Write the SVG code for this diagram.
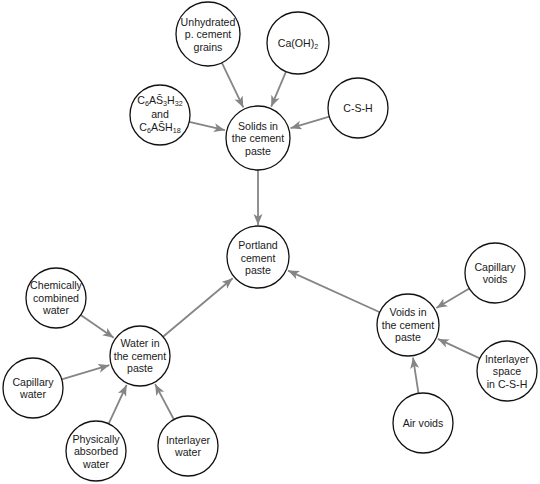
<svg xmlns="http://www.w3.org/2000/svg" width="540" height="484" viewBox="0 0 540 484">
<style>
.node circle{fill:#fff;stroke:#111;stroke-width:1.3}
text{font-family:"Liberation Sans",Arial,sans-serif;font-size:10.6px;fill:#1a1a1a;text-anchor:middle}
.sub{font-size:7.2px}
#connectors line{stroke:#858585;stroke-width:1.8;marker-end:url(#arr)}
</style>
<defs>
<marker id="arr" markerUnits="userSpaceOnUse" markerWidth="12" markerHeight="10" refX="11" refY="4.5" orient="auto">
<path d="M0,0 L11,4.5 L0,9 L2.8,4.5 z" fill="#858585"/>
</marker>
</defs>
<rect width="540" height="484" fill="#fff"/>
<g id="connectors">
<line x1="221.9" y1="62.8" x2="243.3" y2="107.4"/>
<line x1="286.0" y1="71.6" x2="271.2" y2="106.7"/>
<line x1="189.2" y1="121.9" x2="224.9" y2="130.2"/>
<line x1="329.3" y1="116.6" x2="290.6" y2="128.2"/>
<line x1="258" y1="170" x2="258" y2="225"/>
<line x1="163" y1="336.7" x2="232.7" y2="278.2"/>
<line x1="379.8" y1="312.2" x2="288.1" y2="270.6"/>
<line x1="80.7" y1="315.0" x2="113.7" y2="337.8"/>
<line x1="61.7" y1="379.4" x2="109.3" y2="365.2"/>
<line x1="108.6" y1="423.8" x2="126.6" y2="385"/>
<line x1="173.9" y1="419.5" x2="155.1" y2="384.2"/>
<line x1="469.3" y1="288.4" x2="436.3" y2="308.1"/>
<line x1="479.8" y1="358.4" x2="437.9" y2="338.9"/>
<line x1="418.5" y1="393.3" x2="413" y2="357.6"/>
</g>
<g id="unhydrated" class="node"><circle cx="208" cy="34" r="32"/>
<text x="208" y="25.6">Unhydrated</text><text x="208" y="38">p. cement</text><text x="208" y="50.5">grains</text></g>
<g id="caoh2" class="node"><circle cx="298" cy="43" r="31"/>
<text x="298" y="46.5">Ca(OH)<tspan class="sub" dy="2">2</tspan></text></g>
<g id="ettringite" class="node"><circle cx="160" cy="115" r="30"/>
<text x="160" y="103.5">C<tspan class="sub" dy="2">6</tspan><tspan dy="-2">AS&#x0304;</tspan><tspan class="sub" dy="2">3</tspan><tspan dy="-2">H</tspan><tspan class="sub" dy="2">32</tspan></text>
<text x="160" y="117.5">and</text>
<text x="160" y="131">C<tspan class="sub" dy="2">6</tspan><tspan dy="-2">AS&#x0304;H</tspan><tspan class="sub" dy="2">18</tspan></text></g>
<g id="csh" class="node"><circle cx="358" cy="108" r="30"/>
<text x="358" y="111.6">C-S-H</text></g>
<g id="solids" class="node"><circle cx="258" cy="138" r="32"/>
<text x="258" y="129.5">Solids in</text><text x="258" y="142">the cement</text><text x="258" y="154.5">paste</text></g>
<g id="portland" class="node"><circle cx="258" cy="257" r="31"/>
<text x="258" y="249">Portland</text><text x="258" y="261.5">cement</text><text x="258" y="274">paste</text></g>
<g id="water" class="node"><circle cx="140" cy="356" r="30"/>
<text x="140" y="347">Water in</text><text x="140" y="359.5">the cement</text><text x="140" y="372">paste</text></g>
<g id="chemically" class="node"><circle cx="56" cy="298" r="30"/>
<text x="56" y="289">Chemically</text><text x="56" y="301.5">combined</text><text x="56" y="314">water</text></g>
<g id="capwater" class="node"><circle cx="33" cy="388" r="30"/>
<text x="33" y="385.5">Capillary</text><text x="33" y="398">water</text></g>
<g id="physically" class="node"><circle cx="96" cy="451" r="30"/>
<text x="96" y="442.5">Physically</text><text x="96" y="455">absorbed</text><text x="96" y="467.5">water</text></g>
<g id="interwater" class="node"><circle cx="188" cy="446" r="30"/>
<text x="188" y="443.5">Interlayer</text><text x="188" y="456">water</text></g>
<g id="voids" class="node"><circle cx="408" cy="325" r="31"/>
<text x="408" y="316">Voids in</text><text x="408" y="328.5">the cement</text><text x="408" y="341">paste</text></g>
<g id="capvoids" class="node"><circle cx="495" cy="273" r="30"/>
<text x="495" y="270.5">Capillary</text><text x="495" y="283">voids</text></g>
<g id="interspace" class="node"><circle cx="507" cy="371" r="30"/>
<text x="507" y="362.5">Interlayer</text><text x="507" y="375">space</text><text x="507" y="387.5">in C-S-H</text></g>
<g id="airvoids" class="node"><circle cx="423" cy="423" r="30"/>
<text x="423" y="426.6">Air voids</text></g>
</svg>
